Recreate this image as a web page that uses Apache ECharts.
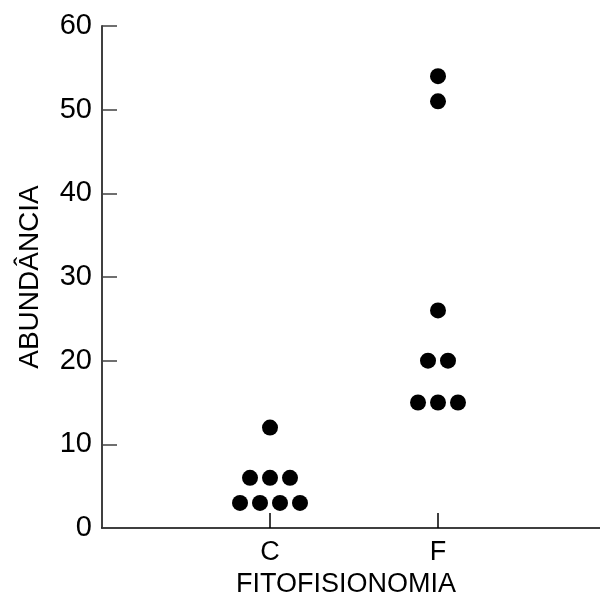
<!DOCTYPE html>
<html>
<head>
<meta charset="utf-8">
<script src="https://cdn.jsdelivr.net/npm/echarts@6/dist/echarts.min.js"></script>
<style>
html,body{margin:0;padding:0;background:#fff;}
#chart{width:600px;height:602px;}
</style>
</head>
<body>
<div id="chart"></div>
<script>
var categories = ['C', 'F'];
var valuesC = [12, 6, 6, 6, 3, 3, 3, 3];
var valuesF = [54, 51, 26, 20, 20, 15, 15, 15];
var yTicks = [0, 10, 20, 30, 40, 50, 60];
var xTitle = 'FITOFISIONOMIA';
var yTitle = 'ABUNDÂNCIA';

var groups = [valuesC, valuesF];
var dotStep = 0.119; // horizontal spacing of tied dots, in x-axis units

function dotPlot(vals, catPos) {
  var counts = {}, seen = {};
  vals.forEach(function (v) { counts[v] = (counts[v] || 0) + 1; });
  return vals.map(function (v) {
    var i = seen[v] || 0; seen[v] = i + 1;
    var n = counts[v];
    return [catPos + (i - (n - 1) / 2) * dotStep, v];
  });
}
var points = [];
groups.forEach(function (g, k) { points = points.concat(dotPlot(g, k + 1)); });

var font = '"Liberation Sans", Arial, sans-serif';
var chart = echarts.init(document.getElementById('chart'), null, {renderer: 'canvas'});
chart.setOption({
  animation: false,
  backgroundColor: '#fff',
  grid: {left: 102, top: 26, width: 504, bottom: 74, containLabel: false, outerBoundsMode: 'none'},
  xAxis: [{
    type: 'category',
    data: [''].concat(categories).concat(['']),
    boundaryGap: false,
    name: xTitle,
    nameLocation: 'middle',
    nameGap: 31,
    nameTextStyle: {fontFamily: font, fontSize: 27, color: '#000', padding: [0, 16, 0, 0]},
    axisLine: {show: true, lineStyle: {color: '#000', width: 1.5}},
    axisTick: {show: true, inside: true, length: 15, lineStyle: {color: '#000', width: 1.5},
      interval: function (idx) { return idx >= 1 && idx <= categories.length; }},
    axisLabel: {fontFamily: font, fontSize: 27, color: '#000', margin: 11,
      interval: function (idx) { return idx >= 1 && idx <= categories.length; }},
    splitLine: {show: false}
  }, {
    type: 'value', min: 0, max: categories.length + 1, show: false
  }],
  yAxis: {
    type: 'value',
    min: yTicks[0], max: yTicks[yTicks.length - 1], interval: yTicks[1] - yTicks[0],
    name: yTitle,
    nameLocation: 'middle',
    nameGap: 58,
    nameTextStyle: {fontFamily: font, fontSize: 28, color: '#000'},
    axisLine: {show: true, lineStyle: {color: '#404040', width: 2}},
    axisTick: {show: true, inside: true, length: 15, lineStyle: {color: '#404040', width: 1.5}},
    axisLabel: {fontFamily: font, fontSize: 29, color: '#000', margin: 10,
      padding: [4, 0, 0, 0]},
    splitLine: {show: false}
  },
  series: [{
    type: 'scatter',
    xAxisIndex: 1,
    data: points,
    symbol: 'circle',
    symbolSize: 16,
    itemStyle: {color: '#000', opacity: 1}
  }]
});
</script>
</body>
</html>
